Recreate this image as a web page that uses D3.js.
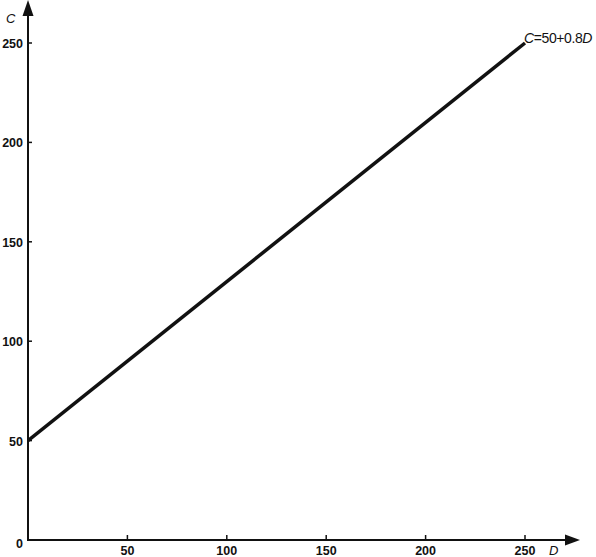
<!DOCTYPE html>
<html>
<head>
<meta charset="utf-8">
<script src="https://cdn.jsdelivr.net/npm/d3@7"></script>
<style>
  body { margin: 0; background: #fff; }
  text { font-family: "Liberation Sans", Arial, sans-serif; fill: #111; }
</style>
</head>
<body>
<svg></svg>
<script>
// C = 50 + 0.8D
const lineD = [0, 250]
const lineC = [50, 250]
const xTicks = [50, 100, 150, 200, 250]
const yTicks = [50, 100, 150, 200, 250]

const svg = d3.select('svg').attr('width', 596).attr('height', 557)

const x = d3.scaleLinear().domain([0, 250]).range([28, 525])
const y = d3.scaleLinear().domain([0, 250]).range([540, 43])

const ink = '#111'

// axes lines
svg.append('line')
  .attr('x1', x(0)).attr('x2', 570)
  .attr('y1', y(0)).attr('y2', y(0))
  .attr('stroke', ink).attr('stroke-width', 2)
svg.append('line')
  .attr('x1', x(0)).attr('x2', x(0))
  .attr('y1', y(0) + 1).attr('y2', 10)
  .attr('stroke', ink).attr('stroke-width', 2)

// arrow heads
svg.append('path')
  .attr('d', `M580,${y(0)} L565,${y(0) - 5.5} L565,${y(0) + 5.5} Z`)
  .attr('fill', ink)
svg.append('path')
  .attr('d', `M${x(0)},0 L${x(0) - 5.5},16 L${x(0) + 5.5},16 Z`)
  .attr('fill', ink)

// x ticks
svg.selectAll('.xt').data(xTicks).enter().append('line')
  .attr('x1', d => x(d)).attr('x2', d => x(d))
  .attr('y1', y(0)).attr('y2', y(0) - 5)
  .attr('stroke', ink).attr('stroke-width', 1.5)
svg.selectAll('.xl').data(xTicks).enter().append('text')
  .attr('x', d => x(d)).attr('y', 555)
  .attr('text-anchor', 'middle')
  .style('font-size', '12.5px').style('font-weight', 'bold')
  .text(d => d)

// y ticks
svg.selectAll('.yt').data(yTicks).enter().append('line')
  .attr('x1', x(0)).attr('x2', x(0) + 4)
  .attr('y1', d => y(d)).attr('y2', d => y(d))
  .attr('stroke', ink).attr('stroke-width', 1.5)
svg.selectAll('.yl').data(yTicks).enter().append('text')
  .attr('x', 23).attr('y', d => y(d) + 5)
  .attr('text-anchor', 'end')
  .style('font-size', '12.5px').style('font-weight', 'bold')
  .text(d => d)

svg.append('text').attr('x', 23).attr('y', 548)
  .attr('text-anchor', 'end').style('font-size', '12.5px')
  .style('font-weight', 'bold').text('0')

// axis labels
svg.append('text').attr('x', 6).attr('y', 23)
  .style('font-size', '13px').style('font-style', 'italic').text('C')
svg.append('text').attr('x', 549).attr('y', 555)
  .style('font-size', '13px').style('font-style', 'italic').text('D')

// the line
svg.append('path')
  .datum(lineD.map((d, i) => [d, lineC[i]]))
  .attr('d', d3.line().x(d => x(d[0])).y(d => y(d[1])))
  .attr('fill', 'none').attr('stroke', ink).attr('stroke-width', 3.5)

const lbl = svg.append('text').attr('x', x(250) - 1).attr('y', 43)
  .style('font-size', '14px').style('letter-spacing', '-0.4px')
lbl.append('tspan').style('font-style', 'italic').text('C')
lbl.append('tspan').text('=50+0.8')
lbl.append('tspan').style('font-style', 'italic').text('D')
</script>
</body>
</html>
